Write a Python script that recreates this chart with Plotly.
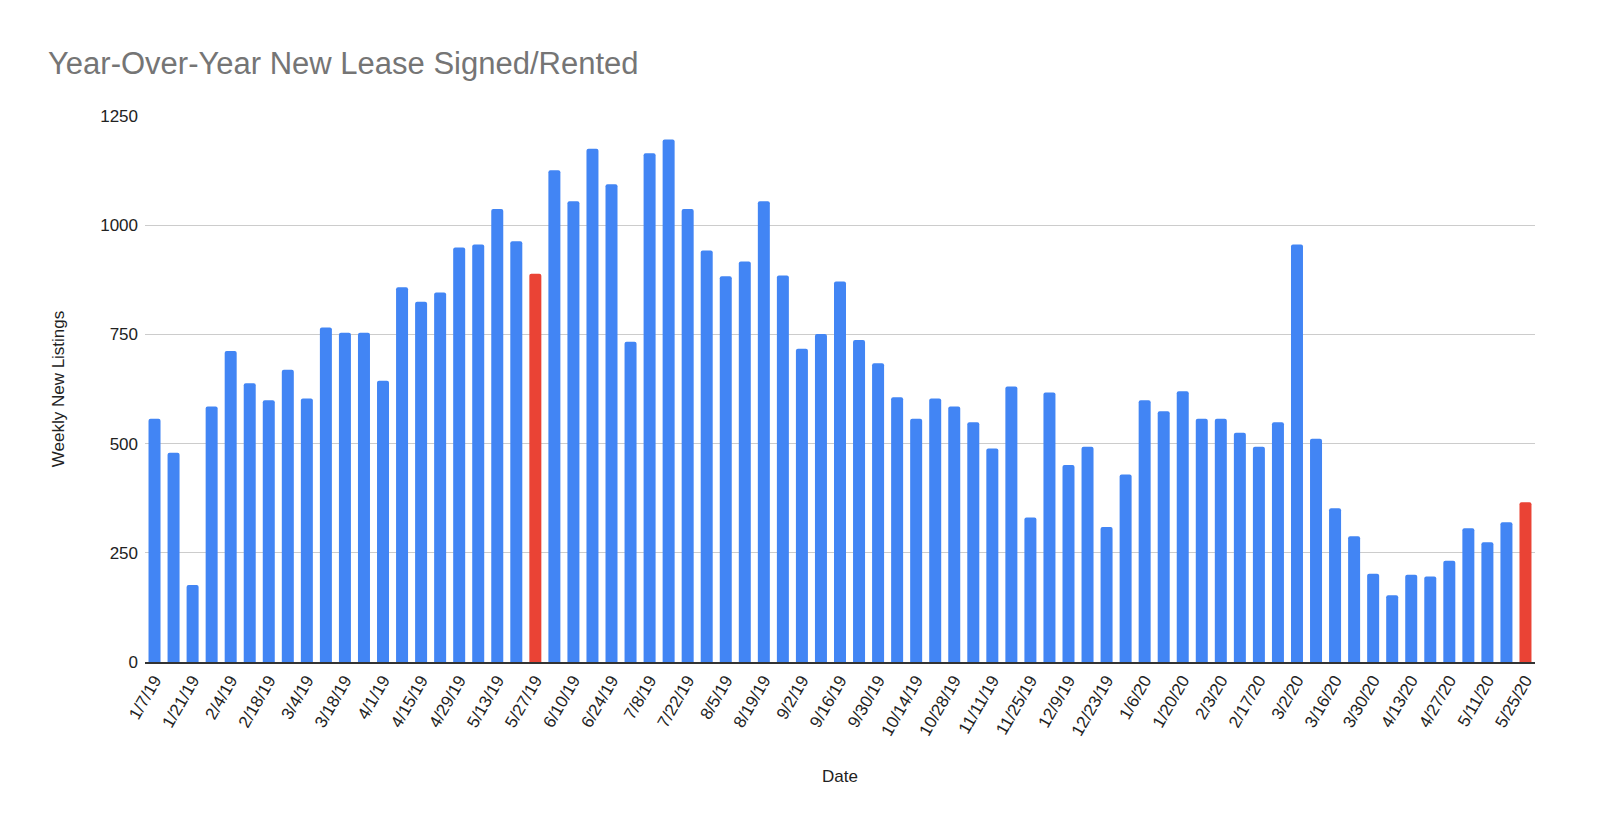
import plotly.graph_objects as go

dates = [
    "1/7/19", "1/14/19", "1/21/19", "1/28/19", "2/4/19", "2/11/19", "2/18/19", "2/25/19",
    "3/4/19", "3/11/19", "3/18/19", "3/25/19", "4/1/19", "4/8/19", "4/15/19", "4/22/19",
    "4/29/19", "5/6/19", "5/13/19", "5/20/19", "5/27/19", "6/3/19", "6/10/19", "6/17/19",
    "6/24/19", "7/1/19", "7/8/19", "7/15/19", "7/22/19", "7/29/19", "8/5/19", "8/12/19",
    "8/19/19", "8/26/19", "9/2/19", "9/9/19", "9/16/19", "9/23/19", "9/30/19", "10/7/19",
    "10/14/19", "10/21/19", "10/28/19", "11/4/19", "11/11/19", "11/18/19", "11/25/19", "12/2/19",
    "12/9/19", "12/16/19", "12/23/19", "12/30/19", "1/6/20", "1/13/20", "1/20/20", "1/27/20",
    "2/3/20", "2/10/20", "2/17/20", "2/24/20", "3/2/20", "3/9/20", "3/16/20", "3/23/20",
    "3/30/20", "4/6/20", "4/13/20", "4/20/20", "4/27/20", "5/4/20", "5/11/20", "5/18/20",
    "5/25/20",
]

listings = [
    557, 479, 176, 585, 712, 638, 599, 669, 603, 766, 754, 754, 644, 858, 825, 846,
    949, 956, 1037, 963, 889, 1126, 1055, 1175, 1094, 733, 1165, 1196, 1037, 942, 883, 917,
    1055, 885, 717, 751, 871, 737, 684, 606, 557, 603, 585, 549, 489, 631, 331, 617,
    451, 493, 309, 429, 599, 574, 620, 557, 557, 525, 493, 549, 956, 511, 352, 288,
    202, 153, 200, 196, 232, 306, 274, 320, 366,
]

# same week of the year highlighted in red
highlight = ["5/27/19", "5/25/20"]

BLUE = "#4285F4"
RED = "#EA4335"
colors = [RED if d in highlight else BLUE for d in dates]

fig = go.Figure(
    go.Bar(
        x=dates,
        y=listings,
        marker=dict(color=colors, line=dict(width=0), cornerradius=2),
        showlegend=False,
    )
)

fig.update_layout(
    title=dict(
        text="Year-Over-Year New Lease Signed/Rented",
        x=0.025,
        xanchor="left",
        y=0.934,
        yanchor="middle",
        font=dict(family="Liberation Sans, Arial", size=31, color="#757575"),
    ),
    width=1600,
    height=835,
    margin=dict(l=137, r=73, t=108, b=181),
    paper_bgcolor="white",
    plot_bgcolor="white",
    bargap=0.37,
    font=dict(family="Liberation Sans, Arial", color="#222222"),
    xaxis=dict(
        type="category",
        tickmode="array",
        tickvals=dates[::2],
        ticktext=dates[::2],
        tickangle=-60,
        tickfont=dict(size=17, color="#222222"),
        title=dict(text="Date", font=dict(size=17, color="#222222"), standoff=32),
        showgrid=False,
        showline=True,
        linecolor="#333333",
        linewidth=1.5,
        ticks="",
        automargin=False,
    ),
    yaxis=dict(
        range=[0, 1250],
        tickvals=[0, 250, 500, 750, 1000, 1250],
        tickfont=dict(size=17, color="#222222"),
        ticklabelstandoff=6,
        title=dict(text="Weekly New Listings", font=dict(size=17, color="#222222"), standoff=31),
        gridcolor="#cccccc",
        zeroline=False,
        ticks="",
        automargin=False,
    ),
)

fig.write_html("out.html")
